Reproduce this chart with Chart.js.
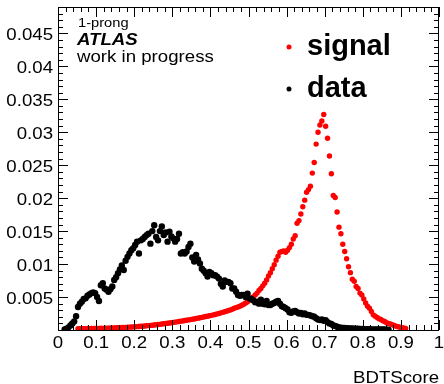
<!DOCTYPE html>
<html lang="en">
<head>
    <meta charset="UTF-8">
    <title>BDTScore 1-prong</title>
    <script src="https://cdn.jsdelivr.net/npm/chart.js"></script>
    <style>
        body {
            margin: 0;
            padding: 0;
            background: white;
        }
        canvas {
            display: block;
        }
    </style>
</head>
<body>
    <canvas id="bdtChart" width="444" height="384"></canvas>

    <script>
        // histogram bins are 0.005 wide
        const binWidth = 0.005;

        const signalFirstBin = 0.0525;
        const signalValues = [
            0.00018, 0.00020, 0.00019, 0.00021, 0.00020, 0.00022, 0.00021, 0.00023, 0.00022, 0.00024,
            0.00024, 0.00025, 0.00026, 0.00025, 0.00027, 0.00028, 0.00028, 0.00030, 0.00031, 0.00032,
            0.00033, 0.00034, 0.00036, 0.00037, 0.00038, 0.00040, 0.00042, 0.00043, 0.00045, 0.00047,
            0.00049, 0.00051, 0.00054, 0.00056, 0.00058, 0.00061, 0.00064, 0.00067, 0.00070, 0.00073,
            0.00076, 0.00079, 0.00083, 0.00086, 0.00090, 0.00094, 0.00098, 0.00102, 0.00106, 0.00110,
            0.00115, 0.00120, 0.00124, 0.00129, 0.00134, 0.00138, 0.00143, 0.00148, 0.00153, 0.00158,
            0.00163, 0.00168, 0.00175, 0.00180, 0.00186, 0.00192, 0.00198, 0.00204, 0.00210, 0.00216,
            0.00222, 0.00230, 0.00236, 0.00244, 0.00252, 0.00260, 0.00268, 0.00276, 0.00286, 0.00295,
            0.00305, 0.00316, 0.00330, 0.00340, 0.00350, 0.00362, 0.00375, 0.00392, 0.00410, 0.00428,
            0.0045, 0.0047, 0.0050, 0.0053, 0.0056, 0.0060, 0.0063, 0.0067, 0.0071, 0.0076,
            0.0082, 0.0087, 0.0093, 0.0099, 0.0106, 0.0112, 0.0118, 0.0119, 0.0120, 0.0118,
            0.0121, 0.0125, 0.0130, 0.0138, 0.0143, 0.0162, 0.0166, 0.0176, 0.0187, 0.0197,
            0.0209, 0.0213, 0.0218, 0.0238, 0.0254, 0.0282, 0.0300, 0.0311, 0.0317, 0.0327,
            0.0309, 0.0291, 0.0264, 0.0237, 0.0204, 0.0201, 0.0179, 0.0156, 0.0146, 0.0130,
            0.0119, 0.0108, 0.0096, 0.0087, 0.0077, 0.0074, 0.0066, 0.0063, 0.0056, 0.0053,
            0.0047, 0.0041, 0.0036, 0.0033, 0.0028, 0.0023, 0.0021, 0.0019, 0.0017, 0.0016,
            0.0014, 0.0013, 0.0011, 0.0010, 0.0009, 0.0008, 0.00068, 0.00058, 0.0005, 0.00042,
            0.00035, 0.0003, 0.00025
        ];

        const dataFirstBin = 0.0175;
        const dataValues = [
            0.0001, 0.0002, 0.0004, 0.0007, 0.0010, 0.0013, 0.0021,
            0.0035, 0.0040, 0.0043, 0.0047, 0.0048, 0.0052, 0.0054, 0.0056, 0.0057, 0.0056,
            0.0050, 0.0044, 0.0068, 0.0071, 0.0063, 0.0061, 0.0058, 0.0062, 0.0066, 0.0076,
            0.0080, 0.0086, 0.0092, 0.0098, 0.0091, 0.0105, 0.0111, 0.0116, 0.0121, 0.0124,
            0.0129, 0.0134, 0.0116, 0.0136, 0.0138, 0.0141, 0.0144, 0.0146, 0.0131, 0.0150,
            0.0159, 0.0141, 0.0136, 0.0150, 0.0157, 0.0144, 0.0148, 0.0134, 0.0149, 0.0142,
            0.0139, 0.0134, 0.0138, 0.0146, 0.0116, 0.0118, 0.0116, 0.0119, 0.0126, 0.0131,
            0.0110, 0.0104, 0.0114, 0.0107, 0.0101, 0.0093, 0.0090, 0.0086, 0.0081, 0.0088,
            0.0086, 0.0083, 0.0083, 0.0081, 0.0078, 0.0070, 0.0066, 0.0075, 0.0073, 0.0073,
            0.0071, 0.0063, 0.0063, 0.0058, 0.0053, 0.0052, 0.0053, 0.0053, 0.0050, 0.0055,
            0.0048, 0.0047, 0.0045, 0.0042, 0.0043, 0.0040, 0.0046, 0.0040, 0.0039, 0.0044,
            0.0038, 0.0038, 0.0040, 0.0041, 0.0043, 0.0044, 0.0040, 0.0036, 0.0035, 0.0033,
            0.0031, 0.0027, 0.0026, 0.0028, 0.0029, 0.0027, 0.0025, 0.0026, 0.0024, 0.0025,
            0.0023, 0.0023, 0.0022, 0.0021, 0.0020, 0.0018, 0.0016, 0.0015, 0.0016, 0.0014,
            0.0015, 0.0012, 0.0010, 0.0009, 0.0007, 0.0006, 0.0005, 0.0004, 0.00035, 0.0003,
            0.0003, 0.00028, 0.00025, 0.00024, 0.00022, 0.0002, 0.0002, 0.00018, 0.00016, 0.00015,
            0.00014, 0.00013, 0.00012, 0.00011, 0.0001, 0.0001, 0.00009, 0.00009, 0.00008, 0.00008,
            0.00007, 0.00007, 0.00006, 0.00006
        ];

        const xTickValues = [0, 0.1, 0.2, 0.3, 0.4, 0.5, 0.6, 0.7, 0.8, 0.9, 1];
        const yTickValues = [0.005, 0.01, 0.015, 0.02, 0.025, 0.03, 0.035, 0.04, 0.045];

        const FONT = '"Liberation Sans", Arial, Helvetica, sans-serif';
        // the ROOT text in the original is a bit wider than Arial at the same height
        const STRETCH = 1.13;

        function toPoints(firstBin, values) {
            return values.map((y, i) => ({ x: firstBin + i * binWidth, y: y }));
        }

        function fmt(v) {
            return parseFloat(v.toFixed(3)).toString();
        }

        function wideText(ctx, text, x, y, align) {
            ctx.save();
            ctx.translate(x, y);
            ctx.scale(STRETCH, 1);
            ctx.textAlign = align;
            ctx.fillText(text, 0, 0);
            ctx.restore();
        }

        // ROOT-like frame: box + inward major/minor ticks on all sides, plus the labels
        const rootFrame = {
            id: 'rootFrame',
            afterDraw(chart) {
                const ctx = chart.ctx;
                const area = chart.chartArea;
                const xs = chart.scales.x;
                const ys = chart.scales.y;
                ctx.save();
                ctx.strokeStyle = '#000';
                ctx.lineWidth = 1;
                ctx.strokeRect(area.left + 0.5, area.top + 0.5, area.right - area.left - 1, area.bottom - area.top);

                ctx.beginPath();
                for (let i = 0; i <= 50; i++) {
                    const px = Math.round(xs.getPixelForValue(i / 50)) + 0.5;
                    const len = i % 5 === 0 ? 10 : 5;
                    ctx.moveTo(px, area.bottom);
                    ctx.lineTo(px, area.bottom - len);
                    ctx.moveTo(px, area.top);
                    ctx.lineTo(px, area.top + len);
                }
                for (let i = 0; i <= 49; i++) {
                    const py = Math.round(ys.getPixelForValue(i / 1000)) + 0.5;
                    const len = i % 5 === 0 ? 10 : 5;
                    ctx.moveTo(area.left, py);
                    ctx.lineTo(area.left + len, py);
                    ctx.moveTo(area.right, py);
                    ctx.lineTo(area.right - len, py);
                }
                ctx.stroke();

                // tick labels and axis title
                ctx.fillStyle = '#000';
                ctx.textBaseline = 'alphabetic';
                ctx.font = '16.5px ' + FONT;
                xTickValues.forEach(v => {
                    wideText(ctx, fmt(v), xs.getPixelForValue(v), area.bottom + 18, 'center');
                });
                yTickValues.forEach(v => {
                    wideText(ctx, fmt(v), area.left - 5, ys.getPixelForValue(v) + 7, 'right');
                });
                wideText(ctx, 'BDTScore', area.right, 383, 'right');

                // labels in the top-left corner
                ctx.font = '13px ' + FONT;
                wideText(ctx, '1-prong', 78, 27, 'left');
                ctx.font = 'italic bold 16.5px ' + FONT;
                wideText(ctx, 'ATLAS', 77, 45, 'left');
                ctx.font = '16.5px ' + FONT;
                wideText(ctx, 'work in progress', 77, 62, 'left');

                // legend
                const entries = [
                    { label: 'signal', color: 'red', y: 47 },
                    { label: 'data', color: 'black', y: 89 }
                ];
                ctx.font = 'bold 29px ' + FONT;
                ctx.textBaseline = 'middle';
                ctx.textAlign = 'left';
                entries.forEach(e => {
                    ctx.fillStyle = e.color;
                    ctx.beginPath();
                    ctx.arc(289, e.y, 2.5, 0, Math.PI * 2);
                    ctx.fill();
                    ctx.fillStyle = '#000';
                    ctx.fillText(e.label, 307, e.y);
                });
                ctx.restore();
            }
        };

        const ctx = document.getElementById('bdtChart').getContext('2d');
        const bdtChart = new Chart(ctx, {
            type: 'scatter',
            data: {
                datasets: [{
                    label: 'data',
                    data: toPoints(dataFirstBin, dataValues),
                    backgroundColor: 'black',
                    borderColor: 'black',
                    pointRadius: 3.2,
                    borderWidth: 0
                }, {
                    label: 'signal',
                    data: toPoints(signalFirstBin, signalValues),
                    backgroundColor: 'red',
                    borderColor: 'red',
                    pointRadius: 2.7,
                    borderWidth: 0
                }]
            },
            options: {
                responsive: false,
                animation: false,
                layout: { padding: { top: 7, right: 5, left: 0, bottom: 0 } },
                plugins: {
                    legend: { display: false },
                    tooltip: { enabled: false }
                },
                scales: {
                    x: {
                        type: 'linear',
                        min: 0,
                        max: 1,
                        afterFit: s => { s.height = 54; },
                        grid: { display: false, drawTicks: false },
                        border: { display: false },
                        ticks: { display: false }
                    },
                    y: {
                        type: 'linear',
                        min: 0,
                        max: 0.049,
                        afterFit: s => { s.width = 58; },
                        grid: { display: false, drawTicks: false },
                        border: { display: false },
                        ticks: { display: false }
                    }
                }
            },
            plugins: [rootFrame]
        });
    </script>
</body>
</html>
